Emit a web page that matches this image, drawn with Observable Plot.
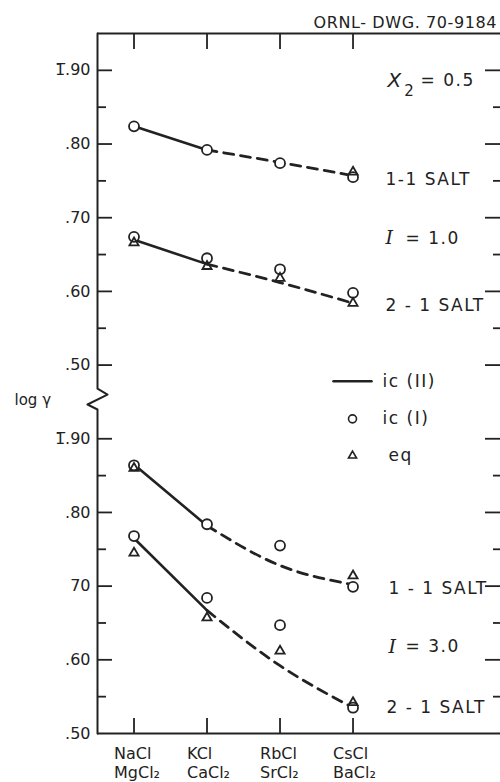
<!DOCTYPE html>
<html><head><meta charset="utf-8">
<script src="https://cdn.jsdelivr.net/npm/d3@7"></script>
<script src="https://cdn.jsdelivr.net/npm/@observablehq/plot@0.6"></script>
<style>
body{margin:0;background:#fff}
#chart svg{display:block;overflow:visible}
</style></head><body><div id="chart"></div>
<script>
// categories
const salts1 = ["NaCl","KCl","RbCl","CsCl"];
const salts2 = ["MgCl₂","CaCl₂","SrCl₂","BaCl₂"];

// log γ (mantissa) – upper panel X2 = 0.5, I = 1.0 ; lower panel I = 3.0
// ic(II) curve values
const icII_I1_11 = [0.824, 0.792, 0.775, 0.757];
const icII_I1_21 = [0.670, 0.637, 0.612, 0.584];
const icII_I3_11 = [0.865, 0.782, 0.728, 0.702];
const icII_I3_21 = [0.765, 0.667, 0.592, 0.535];
// ic(I) points (circles)
const icI_I1_11 = [0.824, 0.792, 0.774, 0.755];
const icI_I1_21 = [0.674, 0.645, 0.630, 0.598];
const icI_I3_11 = [0.864, 0.784, 0.755, 0.699];
const icI_I3_21 = [0.768, 0.684, 0.647, 0.535];
// eq points (triangles)
const eq_I1_11 = [null, null, null, 0.762];
const eq_I1_21 = [0.666, 0.634, 0.618, 0.584];
const eq_I3_11 = [0.860, null, null, 0.714];
const eq_I3_21 = [0.745, 0.657, 0.612, 0.542];

// y tick labels (upper panel drawn 0.5 above the lower one, broken axis)
const panelOffset = {"I=1.0": 0.5, "I=3.0": 0};
const yMajor = [1.4, 1.3, 1.2, 1.1, 1.0, 0.9, 0.8, 0.7, 0.6, 0.5];
const yMajorLabels = ["1\u0305.90", ".80", ".70", ".60", ".50", "1\u0305.90", ".80", "70", ".60", ".50"];
const yMinor = [1.35, 1.25, 1.15, 1.05, 0.85, 0.75, 0.65, 0.55];
const yRightMajor = [1.4, 1.3, 1.2, 1.1, 1.0, 0.9, 0.8, 0.7, 0.6];
const yRightMinor = [1.35, 1.25, 1.15, 1.05, 0.85, 0.75, 0.65, 0.55];

// axis break (zigzag) and frame extents, in data units
const axisPath = [[-0.5,1.45],[-0.5,0.968],[-0.363,0.960],[-0.637,0.9465],[-0.5,0.9397],[-0.5,0.5]];

// annotations
const annoText = ["1-1 SALT", "2 - 1 SALT", "1 - 1 SALT", "2 - 1 SALT", "= 0.5", "= 1.0", "= 3.0"];
const annoX    = [3.445, 3.445, 3.486, 3.459, 3.925, 3.719, 3.719];
const annoY    = [1.252, 1.081, 0.697, 0.535, 1.386, 1.172, 0.618];
const italText = ["I", "I"];
const italX    = [3.445, 3.486];
const italY    = [1.172, 0.618];
const legendText = ["ic (II)", "ic (I)", "eq"];
const legendTextX = [3.404, 3.404, 3.486];
const legendY = [0.978, 0.927, 0.877];
const legendLineX = [2.733, 3.253];
const legendMarkX = 2.993;
const drawingId = "ORNL- DWG. 70-9184";

// build records
const series = [
  {panel:"I=1.0", salt:"1-1", icII:icII_I1_11, icI:icI_I1_11, eq:eq_I1_11},
  {panel:"I=1.0", salt:"2-1", icII:icII_I1_21, icI:icI_I1_21, eq:eq_I1_21},
  {panel:"I=3.0", salt:"1-1", icII:icII_I3_11, icI:icI_I3_11, eq:eq_I3_11},
  {panel:"I=3.0", salt:"2-1", icII:icII_I3_21, icI:icI_I3_21, eq:eq_I3_21}
];
const curve = [], circles = [], tris = [];
for (const s of series) {
  const off = panelOffset[s.panel];
  const key = s.panel + s.salt;
  s.icII.forEach((v,i) => curve.push({key, i, y: v + off}));
  s.icI.forEach((v,i) => { if (v != null) circles.push({i, y: v + off}); });
  s.eq.forEach((v,i) => { if (v != null) tris.push({i, y: v + off}); });
}
const yLabelMap = new Map(yMajor.map((v,i) => [v, yMajorLabels[i]]));
const FW = 403, FH = 700; // frame size in px, used for tick lengths
const ink = "#222";
const font = "DejaVu Sans, sans-serif";

const plot = Plot.plot({
  width: 500, height: 782,
  marginLeft: 97, marginRight: 0, marginTop: 33, marginBottom: 49,
  x: {domain: [-0.5, 5.02], axis: null},
  y: {domain: [0.5, 1.45], axis: null},
  style: {fontFamily: font, color: ink, background: "white"},
  marks: [
    // frame: top and bottom rules, left axis with break
    Plot.ruleY([1.45, 0.5], {stroke: ink, strokeWidth: 2}),
    Plot.line(axisPath, {x: d => d[0], y: d => d[1], stroke: ink, strokeWidth: 2}),
    // inward ticks
    Plot.tickY(yMajor.filter(v => v > 0.5), {y: d => d, insetRight: FW - 15, stroke: ink, strokeWidth: 1.8}),
    Plot.tickY(yMinor, {y: d => d, insetRight: FW - 9, stroke: ink, strokeWidth: 1.8}),
    Plot.tickY(yRightMajor, {y: d => d, insetLeft: FW - 15, stroke: ink, strokeWidth: 1.8}),
    Plot.tickY(yRightMinor, {y: d => d, insetLeft: FW - 7, stroke: ink, strokeWidth: 1.8}),
    Plot.tickX([0,1,2,3], {x: d => d, insetTop: FH - 15, stroke: ink, strokeWidth: 1.8}),
    Plot.tickX([0,1,2,3], {x: d => d, insetBottom: FH - 16, stroke: ink, strokeWidth: 1.8}),
    // axes labels
    Plot.axisY({ticks: yMajor, tickFormat: d => yLabelMap.get(d), tickSize: 0, tickPadding: 7, fontSize: 16, label: null}),
    Plot.axisX({ticks: [0,1,2,3], tickFormat: i => salts1[i] + "\n" + salts2[i], tickSize: 0, tickPadding: 12,
                fontSize: 16, lineHeight: 1.2, textAnchor: "start", dx: -20, label: null}),
    // ic(II) curves: solid between first two, dashed beyond
    Plot.line(curve.filter(d => d.i <= 1), {x: "i", y: "y", z: "key", stroke: ink, strokeWidth: 2.6}),
    Plot.line(curve.filter(d => d.i >= 1), {x: "i", y: "y", z: "key", curve: "natural", stroke: ink,
                strokeWidth: 2.8, strokeDasharray: "10,7"}),
    // ic(I) circles, eq triangles
    Plot.dot(circles, {x: "i", y: "y", r: 5, fill: "white", stroke: ink, strokeWidth: 1.8}),
    Plot.dot(tris, {x: "i", y: "y", r: 3.4, symbol: "triangle", fill: "none", stroke: ink, strokeWidth: 1.8}),
    // legend
    Plot.line(legendLineX, {x: d => d, y: () => legendY[0], stroke: ink, strokeWidth: 2.6}),
    Plot.dot([legendMarkX], {x: d => d, y: () => legendY[1], r: 4, fill: "white", stroke: ink, strokeWidth: 1.6}),
    Plot.dot([legendMarkX], {x: d => d, y: () => legendY[2], r: 3, symbol: "triangle", fill: "none", stroke: ink, strokeWidth: 1.6}),
    Plot.text(legendText, {x: (d,i) => legendTextX[i], y: (d,i) => legendY[i], text: d => d, textAnchor: "start",
                fontSize: 17, fill: ink}),
    // annotations
    Plot.text(annoText, {x: (d,i) => annoX[i], y: (d,i) => annoY[i], text: d => d, textAnchor: "start",
                fontSize: 17, fill: ink}),
    Plot.text(italText, {x: (d,i) => italX[i], y: (d,i) => italY[i], text: d => d, textAnchor: "start",
                fontSize: 19, fontStyle: "italic", fontFamily: "DejaVu Serif, serif", fill: ink}),
    Plot.text(["X"], {x: () => 3.473, y: () => 1.386, text: d => d, textAnchor: "start",
                fontSize: 20, fontStyle: "italic", fill: ink}),
    Plot.text(["2"], {x: () => 3.70, y: () => 1.372, text: d => d, textAnchor: "start", fontSize: 15, fill: ink}),
    Plot.text(["log γ"], {x: () => -1.637, y: () => 0.952, text: d => d, textAnchor: "start", fontSize: 15,
                fontWeight: 500, fill: ink}),
    Plot.text([drawingId], {x: () => 2.459, y: () => 1.465, text: d => d, textAnchor: "start",
                fontSize: 16, fill: ink})
  ]
});
// widen the lettering spacing of the hand-lettered annotations
const spaced = new Set([...annoText, ...legendText]);
d3.select(plot).selectAll("text")
  .filter(function() { return spaced.has(this.textContent); })
  .style("letter-spacing", "1.5px");
d3.select(plot).selectAll("text")
  .filter(function() { return this.textContent === drawingId; })
  .style("letter-spacing", "0.6px");
document.getElementById("chart").append(plot);
</script>
</body></html>
